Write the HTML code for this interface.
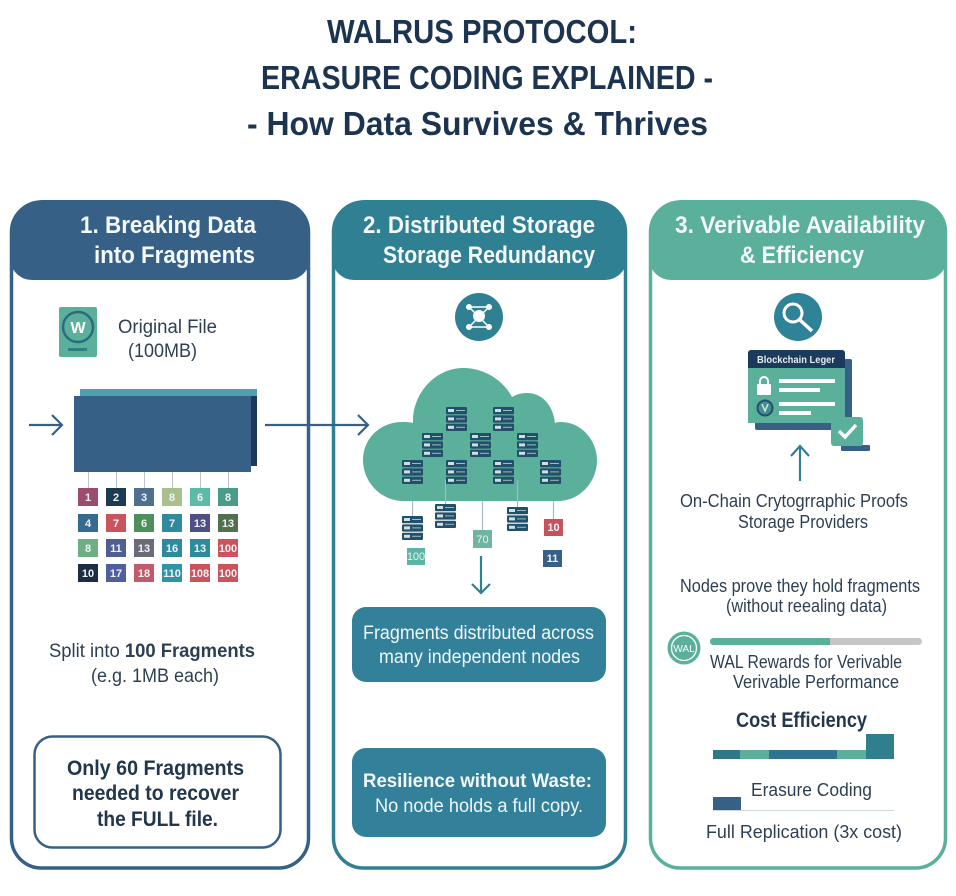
<!DOCTYPE html>
<html><head><meta charset="utf-8"><title>Walrus Protocol</title>
<style>
html,body{margin:0;padding:0;background:#fff;width:956px;height:896px;overflow:hidden}
svg{display:block}
text{font-family:"Liberation Sans",sans-serif;fill:#2d3f52}
.b{font-weight:bold}
.h{font-weight:bold;font-size:24px;fill:#f4f8f9}
.t{font-weight:bold;font-size:33px;fill:#1c3450}
.r{font-size:19px}
.w{fill:#f2f7f8}
.f{font-size:11px;fill:#eef3f4;text-anchor:middle;font-weight:bold}
</style></head><body>
<svg width="956" height="896" viewBox="0 0 956 896" xmlns="http://www.w3.org/2000/svg">
<defs>
<g id="bar"><rect width="21" height="7.2" rx="1" fill="#22506a"/><rect x="2" y="2" width="6" height="3" fill="#cfe0e2"/><rect x="10" y="3" width="9" height="1" fill="#9dbcc4"/></g>
<g id="s"><use href="#bar"/><use href="#bar" y="8.4"/><use href="#bar" y="16.8"/></g>
</defs>

<text class="t" x="327" y="43" textLength="310" lengthAdjust="spacingAndGlyphs">WALRUS PROTOCOL:</text>
<text class="t" x="261" y="89" textLength="452" lengthAdjust="spacingAndGlyphs">ERASURE CODING EXPLAINED -</text>
<text class="t" x="247" y="135" textLength="461" lengthAdjust="spacingAndGlyphs">- How Data Survives &amp; Thrives</text>

<!-- Panels -->
<rect x="11.5" y="202" width="297" height="666" rx="30" fill="#fff" stroke="#376087" stroke-width="3.5"/>
<rect x="333.5" y="202" width="292" height="666" rx="30" fill="#fff" stroke="#2f8093" stroke-width="3.5"/>
<rect x="650.5" y="202" width="295" height="666" rx="30" fill="#fff" stroke="#5bb09b" stroke-width="3.5"/>
<path d="M10 234a34 34 0 0 1 34-34H276a34 34 0 0 1 34 34V258a22 22 0 0 1-22 22H32a22 22 0 0 1-22-22Z" fill="#376087"/>
<path d="M332 234a34 34 0 0 1 34-34H593a34 34 0 0 1 34 34V258a22 22 0 0 1-22 22H354a22 22 0 0 1-22-22Z" fill="#2f8093"/>
<path d="M649 234a34 34 0 0 1 34-34H913a34 34 0 0 1 34 34V258a22 22 0 0 1-22 22H671a22 22 0 0 1-22-22Z" fill="#5bb09b"/>

<text class="h" x="80" y="233" textLength="176" lengthAdjust="spacingAndGlyphs">1. Breaking Data</text>
<text class="h" x="94" y="263" textLength="161" lengthAdjust="spacingAndGlyphs">into Fragments</text>
<text class="h" x="363" y="233" textLength="232" lengthAdjust="spacingAndGlyphs">2. Distributed Storage</text>
<text class="h" x="383" y="263" textLength="212" lengthAdjust="spacingAndGlyphs">Storage Redundancy</text>
<text class="h" x="675" y="233" textLength="250" lengthAdjust="spacingAndGlyphs">3. Verivable Availability</text>
<text class="h" x="740" y="263" textLength="124" lengthAdjust="spacingAndGlyphs">&amp; Efficiency</text>

<!-- Panel 1 -->
<rect x="59" y="307" width="38" height="50" rx="2" fill="#5bb09b"/>
<circle cx="78" cy="327" r="15" fill="#5bb09b" stroke="#2b6c80" stroke-width="2.5"/>
<text x="78" y="333" text-anchor="middle" class="b" style="font-size:16px;fill:#fff">W</text>
<rect x="68" y="348" width="19" height="3" fill="#2b7f85"/>
<text class="r" x="118" y="333" textLength="99" lengthAdjust="spacingAndGlyphs">Original File</text>
<text class="r" x="128" y="357" textLength="69" lengthAdjust="spacingAndGlyphs">(100MB)</text>

<rect x="80" y="389" width="177" height="8" fill="#4f9fb3"/>
<rect x="250" y="396" width="7" height="70" fill="#1c3a5c"/>
<rect x="74" y="396" width="177" height="76" fill="#376087"/>
<path d="M29 425H62M52 415L62 425L52 435" fill="none" stroke="#376087" stroke-width="2.2"/>
<path d="M265 425H368M358 415L368 425L358 435" fill="none" stroke="#376087" stroke-width="2.2"/>
<path d="M88.500 472V488M116.500 472V488M144.500 472V488M172.500 472V488M200.500 472V488M228.500 472V488" stroke="#b8c4cc" stroke-width="1"/>

<rect x="78" y="488" width="20" height="18" fill="#9a4d6c"/><text class="f" x="88" y="501">1</text>
<rect x="106" y="488" width="20" height="18" fill="#1c3a52"/><text class="f" x="116" y="501">2</text>
<rect x="134" y="488" width="20" height="18" fill="#4f6f8f"/><text class="f" x="144" y="501">3</text>
<rect x="162" y="488" width="20" height="18" fill="#a9c08c"/><text class="f" x="172" y="501">8</text>
<rect x="190" y="488" width="20" height="18" fill="#5cbba8"/><text class="f" x="200" y="501">6</text>
<rect x="218" y="488" width="20" height="18" fill="#4a9c88"/><text class="f" x="228" y="501">8</text>

<rect x="78" y="514" width="20" height="18" fill="#376a90"/><text class="f" x="88" y="527">4</text>
<rect x="106" y="514" width="20" height="18" fill="#c9545c"/><text class="f" x="116" y="527">7</text>
<rect x="134" y="514" width="20" height="18" fill="#4f8f5c"/><text class="f" x="144" y="527">6</text>
<rect x="162" y="514" width="20" height="18" fill="#2f8a9c"/><text class="f" x="172" y="527">7</text>
<rect x="190" y="514" width="20" height="18" fill="#4f4f86"/><text class="f" x="200" y="527">13</text>
<rect x="218" y="514" width="20" height="18" fill="#50704f"/><text class="f" x="228" y="527">13</text>

<rect x="78" y="539" width="20" height="18" fill="#6fae84"/><text class="f" x="88" y="552">8</text>
<rect x="106" y="539" width="20" height="18" fill="#4f5f94"/><text class="f" x="116" y="552">11</text>
<rect x="134" y="539" width="20" height="18" fill="#6c6c78"/><text class="f" x="144" y="552">13</text>
<rect x="162" y="539" width="20" height="18" fill="#2f8a9c"/><text class="f" x="172" y="552">16</text>
<rect x="190" y="539" width="20" height="18" fill="#2f8a9c"/><text class="f" x="200" y="552">13</text>
<rect x="218" y="539" width="20" height="18" fill="#c9545c"/><text class="f" x="228" y="552">100</text>

<rect x="78" y="564" width="20" height="18" fill="#1c2f42"/><text class="f" x="88" y="577">10</text>
<rect x="106" y="564" width="20" height="18" fill="#4f5f9c"/><text class="f" x="116" y="577">17</text>
<rect x="134" y="564" width="20" height="18" fill="#c25a6c"/><text class="f" x="144" y="577">18</text>
<rect x="162" y="564" width="20" height="18" fill="#2f94a8"/><text class="f" x="172" y="577">110</text>
<rect x="190" y="564" width="20" height="18" fill="#c9545c"/><text class="f" x="200" y="577">108</text>
<rect x="218" y="564" width="20" height="18" fill="#c9545c"/><text class="f" x="228" y="577">100</text>

<text class="r" x="49" y="657" textLength="206" lengthAdjust="spacingAndGlyphs">Split into <tspan class="b">100 Fragments</tspan></text>
<text class="r" x="91" y="682" textLength="128" lengthAdjust="spacingAndGlyphs">(e.g. 1MB each)</text>
<rect x="34.500" y="736.500" width="246" height="111" rx="18" fill="#fff" stroke="#376087" stroke-width="2.500"/>
<text class="b" style="font-size:21px;fill:#22364c" x="67" y="775" textLength="177" lengthAdjust="spacingAndGlyphs">Only 60 Fragments</text>
<text class="b" style="font-size:21px;fill:#22364c" x="72" y="800" textLength="167" lengthAdjust="spacingAndGlyphs">needed to recover</text>
<text class="b" style="font-size:21px;fill:#22364c" x="97" y="826" textLength="121" lengthAdjust="spacingAndGlyphs">the FULL file.</text>

<!-- Panel 2 -->
<circle cx="479" cy="317" r="24" fill="#2f8093"/>
<path d="M469 307L489 307L479 317ZM469 327L489 327L479 317Z" fill="none" stroke="#fff" stroke-width="1.500"/>
<circle cx="479" cy="316" r="6" fill="#fff"/>
<circle cx="469" cy="307" r="3" fill="#fff"/><circle cx="489" cy="307" r="3" fill="#fff"/>
<circle cx="469" cy="327" r="3" fill="#fff"/><circle cx="489" cy="327" r="3" fill="#fff"/>

<path d="M403 501C381 501 363 482 363 460C363 438 381 422 402 422C405 422 410 422 413 423C412 393 436 368 463 368C484 368 503 380 512 397C517 394 522 393 527 393C542 393 553 405 555 423C558 422 559 422 561 422C581 422 597 440 597 460C597 482 580 501 558 501Z" fill="#5bb09b"/>
<path d="M412.500 501V516M445.500 480V504M482.500 501V530M517.500 480V507M553.500 501V519" stroke="#a9b6c4" stroke-width="1.200"/>
<use href="#s" x="446" y="407"/><use href="#s" x="493" y="407"/>
<use href="#s" x="422" y="433"/><use href="#s" x="470" y="433"/><use href="#s" x="517" y="433"/>
<use href="#s" x="402" y="460"/><use href="#s" x="446" y="460"/><use href="#s" x="493" y="460"/><use href="#s" x="540" y="460"/>
<use href="#s" x="435" y="504"/><use href="#s" x="507" y="507"/><use href="#s" x="402" y="516"/>

<rect x="407" y="548" width="18" height="17" fill="#5bb5a5"/><text class="f" x="416" y="560" style="font-weight:normal">100</text>
<rect x="473" y="530" width="19" height="18" fill="#6fb5a0"/><text class="f" x="482.500" y="543" style="font-weight:normal">70</text>
<rect x="544" y="519" width="19" height="17" fill="#c8525c"/><text class="f" x="553.500" y="531">10</text>
<rect x="543" y="550" width="19" height="17" fill="#376087"/><text class="f" x="552.500" y="562">11</text>
<path d="M481 556V593M472 584L481 593L490 584" fill="none" stroke="#2f8093" stroke-width="2.200"/>

<rect x="352" y="607" width="254" height="75" rx="14" fill="#33809a"/>
<text class="r w" x="363" y="639" textLength="231" lengthAdjust="spacingAndGlyphs">Fragments distributed across</text>
<text class="r w" x="379" y="663" textLength="201" lengthAdjust="spacingAndGlyphs">many independent nodes</text>
<rect x="352" y="748" width="254" height="89" rx="14" fill="#33809a"/>
<text class="r b w" x="363" y="787" textLength="229" lengthAdjust="spacingAndGlyphs">Resilience without Waste:</text>
<text class="r w" x="375" y="812" textLength="208" lengthAdjust="spacingAndGlyphs">No node holds a full copy.</text>

<!-- Panel 3 -->
<circle cx="798" cy="317" r="24" fill="#2f8396"/>
<circle cx="793" cy="313" r="9" fill="none" stroke="#fff" stroke-width="3"/>
<path d="M800 320L812 331" stroke="#fff" stroke-width="3.500"/>

<rect x="755" y="359" width="97" height="71" rx="2" fill="#376087"/>
<path d="M748 423V353a3 3 0 0 1 3-3H842a3 3 0 0 1 3 3V423Z" fill="#5bb09b"/>
<path d="M748 368V353a3 3 0 0 1 3-3H842a3 3 0 0 1 3 3V368Z" fill="#1c3a5c"/>
<text class="b" x="757" y="363" textLength="78" lengthAdjust="spacingAndGlyphs" style="font-size:10px;fill:#e4ecef">Blockchain Leger</text>
<rect x="757" y="384" width="14" height="11" rx="1" fill="#fff"/>
<path d="M760 384V381a4 4 0 0 1 8 0V384" fill="none" stroke="#fff" stroke-width="2"/>
<rect x="779" y="379" width="56" height="4" fill="#fff"/><rect x="779" y="388" width="41" height="4" fill="#fff"/>
<circle cx="765" cy="408" r="7.500" fill="#3f8f90" stroke="#24506a" stroke-width="2"/>
<path d="M762 404L765 411L768 404" fill="none" stroke="#cfe6df" stroke-width="1.500"/>
<rect x="779" y="402" width="56" height="4" fill="#fff"/><rect x="779" y="411" width="32" height="4" fill="#fff"/>
<rect x="841" y="445" width="29" height="6" rx="1" fill="#376087"/>
<rect x="831" y="417" width="32" height="29" rx="3" fill="#5bb09b"/>
<path d="M839 431L845 437L856 425" fill="none" stroke="#fff" stroke-width="3.500"/>

<path d="M800 481V446M791 456L800 446L809 456" fill="none" stroke="#2f8093" stroke-width="2.200"/>

<text class="r" x="680" y="507" textLength="228" lengthAdjust="spacingAndGlyphs" style="font-size:18px">On-Chain Crytogrraphic Proofs</text>
<text class="r" x="738" y="528" textLength="130" lengthAdjust="spacingAndGlyphs" style="font-size:18px">Storage Providers</text>
<text class="r" x="680" y="592" textLength="240" lengthAdjust="spacingAndGlyphs" style="font-size:18px">Nodes prove they hold fragments</text>
<text class="r" x="726" y="612" textLength="161" lengthAdjust="spacingAndGlyphs" style="font-size:18px">(without reealing data)</text>

<circle cx="684" cy="648" r="16.500" fill="#5bb09b"/>
<circle cx="684" cy="648" r="12.500" fill="none" stroke="#fff" stroke-width="1.300"/>
<text x="684" y="652" text-anchor="middle" style="font-size:10px;fill:#fff">WAL</text>
<rect x="710" y="638" width="212" height="7" rx="3.500" fill="#c4c6c8"/>
<path d="M830 638H713.500a3.500 3.500 0 0 0 0 7H830Z" fill="#5bb09b"/>
<text class="r" x="710" y="668" textLength="192" lengthAdjust="spacingAndGlyphs" style="font-size:18px">WAL Rewards for Verivable</text>
<text class="r" x="733" y="688" textLength="166" lengthAdjust="spacingAndGlyphs" style="font-size:18px">Verivable Performance</text>
<text class="b" x="736" y="727" textLength="131" lengthAdjust="spacingAndGlyphs" style="font-size:21px;fill:#22364c">Cost Efficiency</text>
<rect x="713" y="750" width="27" height="9" fill="#2f7888"/>
<rect x="740" y="750" width="29" height="9" fill="#5bb09b"/>
<rect x="769" y="750" width="68" height="9" fill="#2f7490"/>
<rect x="837" y="750" width="29" height="9" fill="#5bb09b"/>
<rect x="866" y="734" width="28" height="25" fill="#2f7f8f"/>
<text class="r" x="751" y="796" textLength="121" lengthAdjust="spacingAndGlyphs" style="font-size:18px">Erasure Coding</text>
<rect x="713" y="797" width="28" height="13" fill="#376087"/>
<rect x="713" y="810" width="181" height="1" fill="#cdd8dc"/>
<text class="r" x="706" y="838" textLength="196" lengthAdjust="spacingAndGlyphs" style="font-size:18px">Full Replication (3x cost)</text>
</svg>
</body></html>
